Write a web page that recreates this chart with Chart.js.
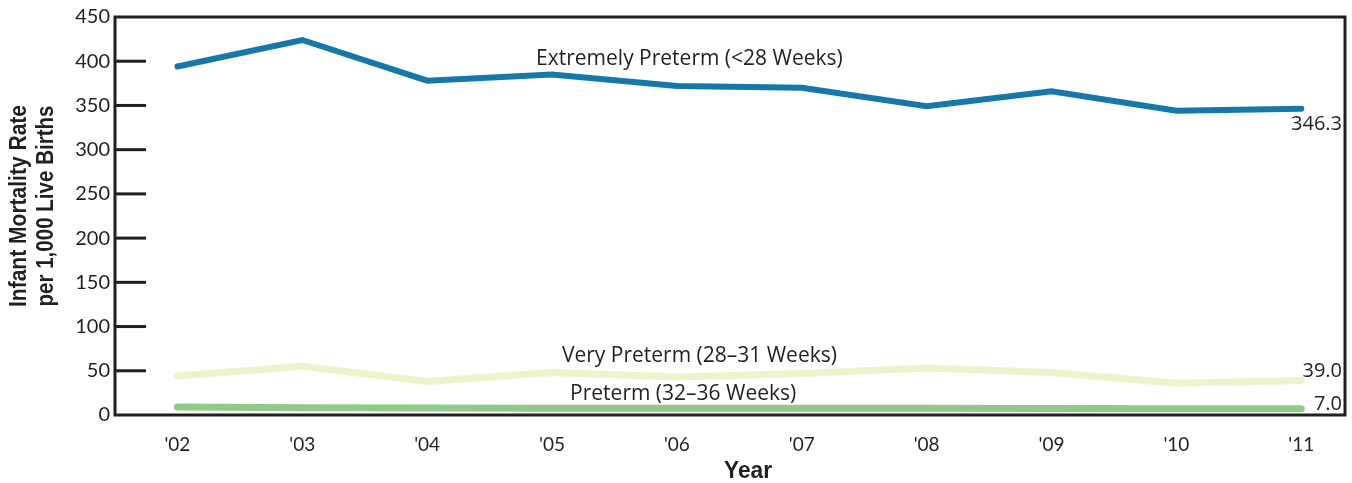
<!DOCTYPE html>
<html>
<head>
<meta charset="utf-8">
<script src="https://cdn.jsdelivr.net/npm/chart.js@4.4.1/dist/chart.umd.min.js"></script>
<style>
  html, body { margin: 0; padding: 0; background: #fff; }
  #wrap { width: 1352px; height: 483px; position: relative; }
</style>
</head>
<body>
<div id="wrap"><canvas id="trendChart"></canvas></div>
<script>
// data
const years = ["'02", "'03", "'04", "'05", "'06", "'07", "'08", "'09", "'10", "'11"];
const extremelyPreterm = [394, 424, 378, 385, 372, 370, 349, 366, 344, 346.3];
const veryPreterm = [44, 55, 38, 48, 43, 47, 53, 48, 36, 39.0];
const preterm = [9, 8.2, 7.8, 7.6, 7.5, 7.5, 7.6, 7.3, 7.0, 7.0];
const yTicks = [0, 50, 100, 150, 200, 250, 300, 350, 400, 450];

const seriesNames = ["Extremely Preterm (<28 Weeks)", "Very Preterm (28\u201331 Weeks)", "Preterm (32\u201336 Weeks)"];
const endLabels = ["346.3", "39.0", "7.0"];

const textColor = "#231f20";
const labelFont = "21px 'Open Sans', Lato, sans-serif";
const titleFont = "bold 23px 'Liberation Sans', Arial, sans-serif";

const toPoints = (vals) => vals.map((v, i) => ({ x: i, y: v }));

// draws bold condensed text squeezed to a given width
function condensed(ctx, text, cx, cy, width) {
  const w = ctx.measureText(text).width;
  const k = Math.min(1, width / w);
  ctx.save();
  ctx.translate(cx, cy);
  ctx.scale(k, 1);
  ctx.fillText(text, 0, 0);
  ctx.restore();
}

// extra drawing: box, inward ticks, axis titles, series labels
const decorations = {
  id: "decorations",
  afterDatasetsDraw(chart) {
    const { ctx, chartArea: a, scales } = chart;
    const x = scales.x, y = scales.y;
    ctx.save();

    // frame
    ctx.strokeStyle = "#231f20";
    ctx.lineWidth = 3;
    ctx.strokeRect(a.left, a.top, a.right - a.left, a.bottom - a.top);

    // inward tick marks on y axis
    yTicks.forEach(t => {
      if (t === 0 || t === 450) return;
      const py = y.getPixelForValue(t);
      ctx.beginPath();
      ctx.moveTo(a.left, py);
      ctx.lineTo(a.left + 31, py);
      ctx.stroke();
    });

    ctx.fillStyle = textColor;

    // series labels
    ctx.font = labelFont;
    ctx.textAlign = "center";
    ctx.textBaseline = "middle";
    ctx.fillText(seriesNames[0], x.getPixelForValue(4.1), y.getPixelForValue(402));
    ctx.fillText(seriesNames[1], x.getPixelForValue(4.18), y.getPixelForValue(67));
    ctx.fillText(seriesNames[2], x.getPixelForValue(4.05), y.getPixelForValue(23.5));

    // end values
    ctx.textAlign = "right";
    ctx.font = "20px 'Open Sans', Lato, sans-serif";
    ctx.fillText(endLabels[0], a.right - 3, y.getPixelForValue(329));
    ctx.fillText(endLabels[1], a.right - 3, y.getPixelForValue(49));
    ctx.fillText(endLabels[2], a.right - 3, y.getPixelForValue(12));

    // axis titles
    ctx.font = titleFont;
    ctx.textAlign = "center";
    condensed(ctx, "Year", a.left + (a.right - a.left) / 2 + 18, 472, 48);

    ctx.translate(33, 206);
    ctx.rotate(-Math.PI / 2);
    condensed(ctx, "Infant Mortality Rate", 0, -13, 202);
    condensed(ctx, "per 1,000 Live Births", 0, 14, 201);

    ctx.restore();
  }
};

const ctx = document.getElementById("trendChart").getContext("2d");

const chart = new Chart(ctx, {
  type: "line",
  data: {
    datasets: [
      { label: seriesNames[0], data: toPoints(extremelyPreterm), borderColor: "#1478a9", borderWidth: 6 },
      { label: seriesNames[1], data: toPoints(veryPreterm), borderColor: "#edf3cb", borderWidth: 7 },
      { label: seriesNames[2], data: toPoints(preterm), borderColor: "#90ca88", borderWidth: 7 }
    ]
  },
  options: {
    responsive: true,
    maintainAspectRatio: false,
    animation: false,
    datasets: {
      line: {
        pointRadius: 0,
        tension: 0,
        borderCapStyle: "round",
        borderJoinStyle: "miter",
        clip: false
      }
    },
    layout: { padding: { top: 13, right: 7, left: 0, bottom: 0 } },
    plugins: { legend: { display: false }, tooltip: { enabled: false } },
    scales: {
      x: {
        type: "linear",
        min: -0.5,
        max: 9.35,
        grid: { display: false, drawTicks: false },
        border: { display: false },
        afterBuildTicks: s => { s.ticks = years.map((_, i) => ({ value: i })); },
        afterFit: s => { s.height = 68; },
        ticks: {
          autoSkip: false,
          maxRotation: 0,
          padding: 18,
          color: textColor,
          font: { family: "Lato, 'Open Sans', sans-serif", size: 19 },
          callback: v => years[v]
        }
      },
      y: {
        min: 0,
        max: 450,
        grid: { display: false, drawTicks: false },
        border: { display: false },
        afterBuildTicks: s => { s.ticks = yTicks.map(v => ({ value: v })); },
        afterFit: s => { s.width = 115; },
        ticks: {
          padding: 5,
          color: textColor,
          font: { family: "Lato, 'Open Sans', sans-serif", size: 20 }
        }
      }
    }
  },
  plugins: [decorations]
});
</script>
</body>
</html>
